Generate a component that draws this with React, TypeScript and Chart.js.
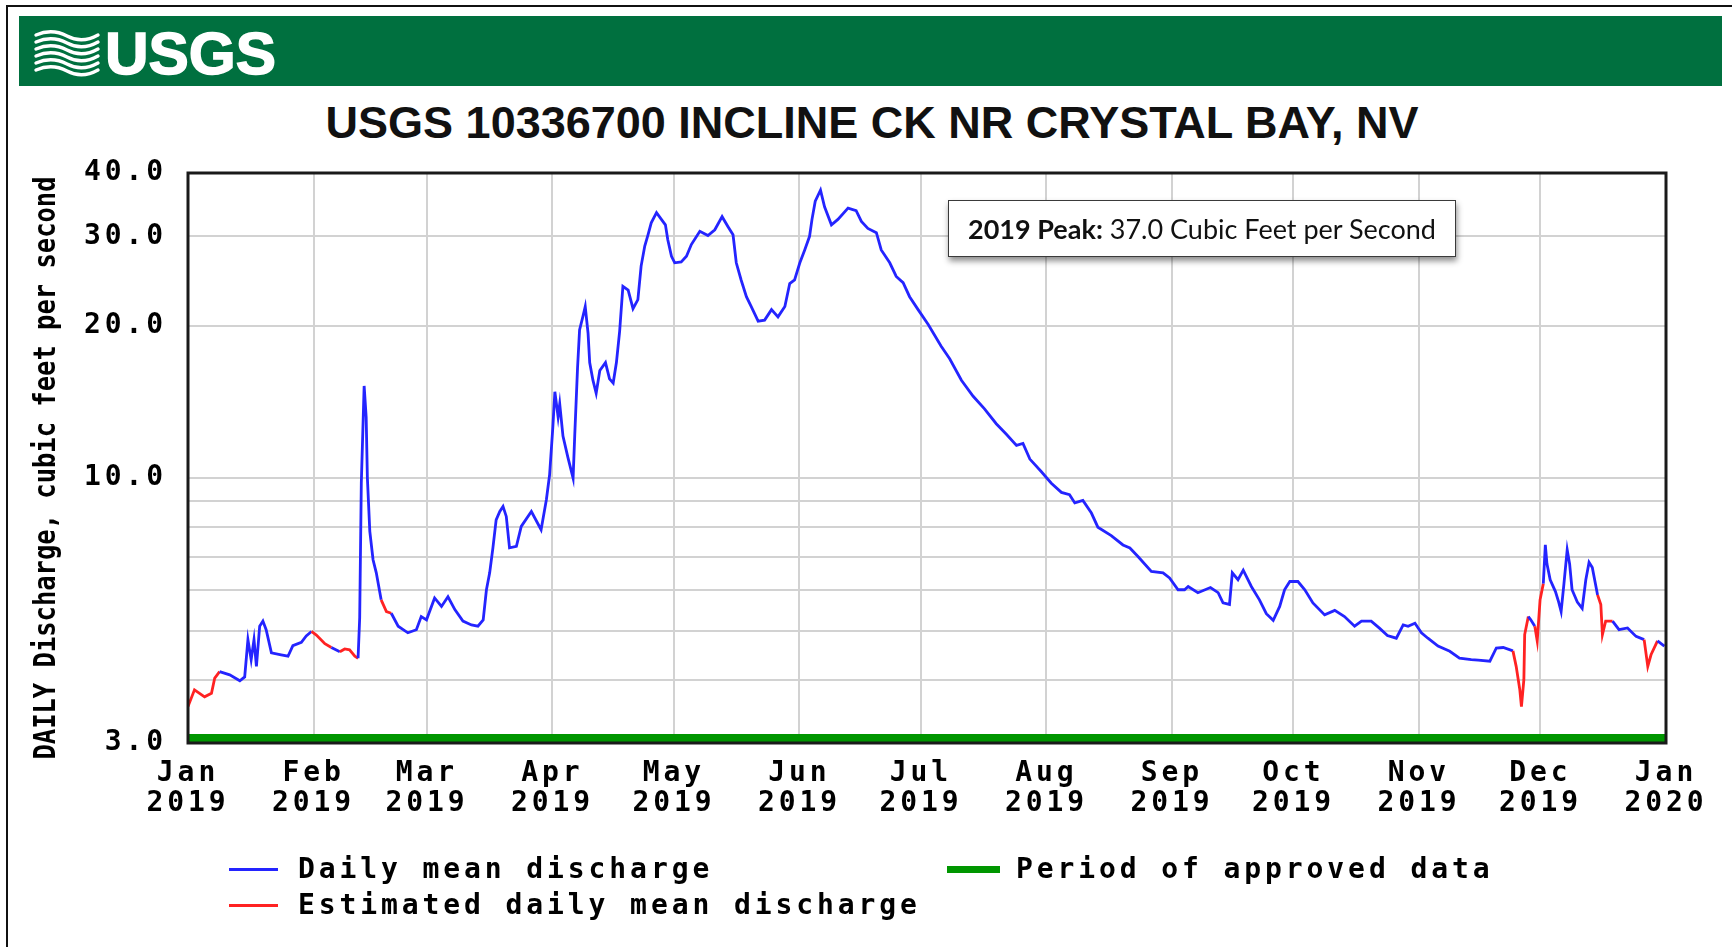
import React, { useEffect, useRef } from "react";
import { Chart, registerables } from "chart.js";

Chart.register(...registerables);

// Day offsets from 1 Jan 2019 (0 = Jan 1) of each reading on the hydrograph
const dischargeDays = [
  0, 1.6, 4.1, 5.8, 6.6, 7.8, 10.3, 12.8, 14.0, 14.8,
  15.6, 16.3, 16.9, 17.7, 18.5, 19.3, 20.6, 23.0, 24.7, 25.9,
  28.0, 29.2, 30.5, 31.7, 33.8, 35.4, 37.5, 38.7, 39.9, 41.2,
  42.0, 42.4, 42.8, 43.5, 44.0, 44.3, 44.9, 45.7, 46.5, 47.7,
  49.0, 50.2, 51.9, 54.3, 56.4, 57.6, 58.9, 60.9, 62.6, 64.2,
  65.9, 67.9, 70.0, 71.6, 72.9, 73.7, 74.5, 75.3, 76.1, 77.0,
  77.8, 78.6, 79.4, 81.1, 82.3, 84.8, 87.2, 88.5, 89.3, 90.1,
  90.6, 91.4, 91.8, 92.6, 93.8, 95.1, 95.5, 96.2, 96.7, 97.5,
  98.1, 98.8, 99.2, 100.0, 100.8, 101.7, 103.1, 104.1, 105.0, 105.8,
  106.6, 107.4, 108.7, 109.9, 111.1, 111.9, 112.8, 113.6, 114.4, 115.7,
  116.9, 117.9, 118.5, 119.4, 120.2, 121.8, 123.1, 124.3, 126.4, 128.4,
  130.1, 131.9, 133.4, 134.6, 135.4, 136.6, 137.9, 139.1, 140.8, 142.4,
  144.1, 145.7, 147.4, 148.6, 149.8, 151.1, 152.3, 153.5, 154.1, 154.9,
  156.2, 157.2, 158.9, 160.5, 163.0, 165.0, 166.3, 167.9, 170.0, 171.2,
  173.3, 174.9, 176.6, 178.2, 180.3, 182.8, 186.0, 188.1, 191.0, 193.9,
  196.7, 199.6, 202.1, 204.6, 206.2, 207.9, 210.7, 213.2, 215.7, 217.7,
  219.0, 221.0, 223.1, 224.7, 228.0, 230.9, 232.6, 234.6, 237.9, 240.8,
  242.4, 244.5, 246.1, 247.0, 249.4, 252.5, 254.4, 255.6, 257.2, 257.9,
  259.3, 260.6, 262.6, 264.6, 266.3, 268.0, 269.6, 270.8, 272.1, 274.1,
  275.8, 277.8, 280.7, 283.2, 285.6, 288.1, 289.8, 292.2, 294.3, 296.2,
  298.4, 300.1, 301.3, 303.0, 304.6, 306.2, 308.7, 311.6, 314.0, 316.9,
  318.6, 321.5, 323.1, 324.8, 327.2, 328.0, 328.9, 329.3, 329.9, 330.1,
  331.0, 331.6, 332.6, 333.2, 333.9, 334.7, 335.2, 335.6, 336.4, 337.7,
  338.5, 339.1, 339.8, 340.6, 341.2, 341.8, 343.1, 344.3, 345.2, 346.0,
  346.8, 348.1, 348.9, 349.3, 350.1, 351.8, 353.4, 355.5, 357.6, 359.6,
  360.5, 361.3, 362.9, 364.6,
];

// Daily mean discharge, cubic feet per second
const dischargeValues = [
  3.54, 3.82, 3.70, 3.76, 4.03, 4.15, 4.09, 3.98, 4.05, 4.80,
  4.38, 4.80, 4.25, 5.10, 5.22, 5.02, 4.52, 4.48, 4.45, 4.67,
  4.74, 4.88, 4.98, 4.90, 4.71, 4.63, 4.54, 4.60, 4.58, 4.45,
  4.41, 5.30, 9.77, 15.2, 13.2, 10.0, 7.85, 6.90, 6.50, 5.75,
  5.45, 5.41, 5.10, 4.95, 5.02, 5.33, 5.25, 5.80, 5.58, 5.83,
  5.50, 5.22, 5.13, 5.10, 5.25, 6.02, 6.50, 7.28, 8.27, 8.59,
  8.79, 8.40, 7.28, 7.33, 8.03, 8.59, 7.91, 9.06, 10.15, 12.6,
  14.8, 13.2, 14.0, 12.1, 11.0, 10.0, 12.1, 16.5, 19.6, 20.8,
  21.8, 19.3, 16.9, 15.6, 14.7, 16.3, 16.9, 15.7, 15.4, 16.9,
  19.5, 23.9, 23.5, 21.6, 22.5, 26.2, 28.7, 30.2, 31.9, 33.4,
  32.4, 31.6, 29.5, 27.4, 26.6, 26.7, 27.4, 28.9, 30.7, 30.1,
  30.9, 32.8, 31.3, 30.2, 26.6, 24.6, 22.8, 21.8, 20.4, 20.5,
  21.5, 20.8, 21.8, 24.2, 24.6, 26.6, 28.2, 30.0, 32.4, 35.2,
  37.0, 34.3, 31.6, 32.4, 34.1, 33.7, 32.1, 31.1, 30.5, 28.2,
  26.6, 25.0, 24.3, 22.8, 21.5, 20.1, 18.2, 17.2, 15.6, 14.5,
  13.7, 12.8, 12.2, 11.6, 11.7, 10.9, 10.3, 9.77, 9.37, 9.27,
  8.93, 9.03, 8.53, 8.00, 7.70, 7.38, 7.28, 7.00, 6.54, 6.50,
  6.35, 6.02, 6.02, 6.11, 5.94, 6.08, 5.94, 5.67, 5.63, 6.50,
  6.30, 6.58, 6.11, 5.75, 5.40, 5.24, 5.58, 6.02, 6.25, 6.25,
  6.02, 5.67, 5.37, 5.48, 5.33, 5.10, 5.22, 5.22, 5.05, 4.89,
  4.83, 5.13, 5.10, 5.17, 4.95, 4.83, 4.66, 4.55, 4.41, 4.38,
  4.37, 4.35, 4.62, 4.63, 4.56, 4.25, 3.82, 3.54, 4.00, 4.91,
  5.33, 5.25, 5.10, 4.77, 5.75, 6.19, 7.38, 6.77, 6.30, 5.97,
  5.69, 5.45, 6.19, 7.22, 6.77, 6.02, 5.69, 5.53, 6.30, 6.82,
  6.66, 5.88, 5.63, 4.91, 5.22, 5.22, 5.02, 5.06, 4.87, 4.80,
  4.25, 4.48, 4.77, 4.66,
];

// Stretches of the record flagged as estimated (start day, end day)
const estimatedRanges: [number, number][] = [
  [0, 7.8],
  [30.5, 35.4],
  [37.5, 42.0],
  [47.7, 50.2],
  [327.2, 331.0],
  [332.6, 334.7],
  [348.1, 351.8],
  [359.6, 362.9],
];

// Period of approved data (start day, end day)
const approvedPeriodDays = [0, 365];

// Month boundaries on the time axis and their labels
const monthStartDays = [0, 31, 59, 90, 120, 151, 181, 212, 243, 273, 304, 334, 365];
const monthNames = ["Jan", "Feb", "Mar", "Apr", "May", "Jun", "Jul", "Aug", "Sep", "Oct", "Nov", "Dec", "Jan"];
const monthYears = ["2019", "2019", "2019", "2019", "2019", "2019", "2019", "2019", "2019", "2019", "2019", "2019", "2020"];

// Log axis: grid lines and the subset that carry a label
const yGridValues = [3, 4, 5, 6, 7, 8, 9, 10, 20, 30, 40];
const yLabeledValues = [3, 10, 20, 30, 40];
const Y_MIN = 3;
const Y_MAX = 40;

const BLUE = "#2424ff";
const RED = "#ff2222";
const GREEN = "#009600";
const GRID = "#d2d2d2";
const MONO = '"DejaVu Sans Mono", "Liberation Mono", monospace';

const peakValue = Math.max(...dischargeValues);

function isEstimated(a: number, b: number) {
  return estimatedRanges.some(([s, e]) => a >= s - 1e-6 && b <= e + 1e-6);
}

const tickFont = { family: MONO, size: 28, weight: "bold" as const, lineHeight: 1.07 };

// Canvas-level letter spacing so the mono labels get their wide pitch
const labelSpacingPlugin = {
  id: "labelSpacing",
  beforeDraw(chart: any) {
    chart.ctx.letterSpacing = "3.9px";
  },
  afterDraw(chart: any) {
    chart.ctx.letterSpacing = "0px";
  },
};

// Dark frame around the plotting area
const plotFramePlugin = {
  id: "plotFrame",
  afterDatasetsDraw(chart: any) {
    const { ctx, chartArea: a } = chart;
    ctx.save();
    ctx.strokeStyle = "#1a1a1a";
    ctx.lineWidth = 3;
    ctx.strokeRect(a.left, a.top, a.right - a.left, a.bottom - a.top);
    ctx.restore();
  },
};

const legendText: React.CSSProperties = {
  position: "absolute",
  font: `bold 28px ${MONO}`,
  letterSpacing: "3.9px",
  lineHeight: "30px",
  whiteSpace: "nowrap",
  color: "#000",
};

export default function App() {
  const canvasRef = useRef<HTMLCanvasElement>(null);

  useEffect(() => {
    const canvas = canvasRef.current;
    if (!canvas) return;
    const n = Math.min(dischargeDays.length, dischargeValues.length);
    const series = [];
    for (let i = 0; i < n; i++) series.push({ x: dischargeDays[i], y: dischargeValues[i] });

    const chart = new Chart(canvas, {
      type: "line",
      data: {
        datasets: [
          {
            label: "Period of approved data",
            data: approvedPeriodDays.map((x) => ({ x, y: Y_MIN })),
            borderColor: GREEN,
            borderWidth: 18,
            pointRadius: 0,
            clip: 0,
            order: 2,
          },
          {
            label: "Daily mean discharge",
            data: series,
            borderColor: BLUE,
            borderWidth: 2.8,
            pointRadius: 0,
            tension: 0,
            order: 1,
            segment: {
              borderColor: (c: any) => (isEstimated(c.p0.parsed.x, c.p1.parsed.x) ? RED : BLUE),
            },
          },
        ],
      },
      options: {
        responsive: false,
        animation: false,
        devicePixelRatio: 1,
        layout: { padding: { left: 0, top: 173, right: 66, bottom: 114 } },
        plugins: {
          legend: { display: false },
          tooltip: { enabled: false },
          title: { display: false },
        },
        scales: {
          x: {
            type: "linear",
            min: 0,
            max: 365,
            afterBuildTicks: (s: any) => {
              s.ticks = monthStartDays.map((value) => ({ value }));
            },
            afterFit: (s: any) => {
              s.height = 90;
            },
            ticks: {
              autoSkip: false,
              maxRotation: 0,
              minRotation: 0,
              padding: 16,
              color: "#000",
              font: tickFont,
              callback: (_v: any, i: number) => [monthNames[i], monthYears[i]],
            },
            grid: { color: GRID, lineWidth: 2, drawTicks: false },
            border: { display: false },
          },
          y: {
            type: "logarithmic",
            min: Y_MIN,
            max: Y_MAX,
            afterBuildTicks: (s: any) => {
              s.ticks = yGridValues.map((value) => ({ value }));
            },
            afterFit: (s: any) => {
              s.width = 188;
            },
            ticks: {
              autoSkip: false,
              padding: 21,
              color: "#000",
              font: tickFont,
              callback: (v: any) => (yLabeledValues.includes(Number(v)) ? Number(v).toFixed(1) : ""),
            },
            grid: { color: GRID, lineWidth: 2, drawTicks: false },
            border: { display: false },
          },
        },
      },
      plugins: [labelSpacingPlugin, plotFramePlugin],
    } as any);

    return () => chart.destroy();
  }, []);

  return (
    <div
      style={{
        position: "fixed",
        left: 0,
        top: 0,
        width: 1732,
        height: 947,
        background: "#fff",
        overflow: "hidden",
      }}
    >
      {/* page frame */}
      <div
        style={{
          position: "absolute",
          left: 6,
          top: 5,
          right: 0,
          bottom: 0,
          borderLeft: "2px solid #111",
          borderTop: "2px solid #111",
        }}
      />

      {/* agency banner */}
      <svg style={{ position: "absolute", left: 19, top: 16 }} width={1703} height={70}>
        <rect width={1703} height={70} fill="#00703F" />
        <g fill="none" stroke="#fff" strokeWidth={3.4} strokeLinecap="round">
          <path d="M17 19 Q33 12 48 20 T79 19" />
          <path d="M17 26 Q33 19 48 27 T79 26" />
          <path d="M17 33 Q33 26 48 34 T79 33" />
          <path d="M17 40 Q33 33 48 41 T79 40" />
          <path d="M17 47 Q33 40 48 48 T79 47" />
          <path d="M17 54 Q33 47 48 55 T79 54" />
        </g>
        <text
          x={86}
          y={58}
          fill="#fff"
          stroke="#fff"
          strokeWidth={1.5}
          fontFamily='"Liberation Sans", Arial, sans-serif'
          fontWeight={700}
          fontSize={60}
          textLength={171}
          lengthAdjust="spacingAndGlyphs"
        >
          USGS
        </text>
      </svg>

      {/* chart title */}
      <div
        style={{
          position: "absolute",
          left: 0,
          width: 1744,
          top: 100,
          textAlign: "center",
          font: 'bold 45px "Liberation Sans", Arial, sans-serif',
          lineHeight: "45px",
          color: "#111",
          whiteSpace: "nowrap",
        }}
      >
        USGS 10336700 INCLINE CK NR CRYSTAL BAY, NV
      </div>

      <canvas
        ref={canvasRef}
        width={1732}
        height={947}
        style={{ position: "absolute", left: 0, top: 0, width: 1732, height: 947 }}
      />

      {/* y-axis title */}
      <svg style={{ position: "absolute", left: 0, top: 0, pointerEvents: "none" }} width={100} height={947}>
        <text
          transform="translate(44,468) rotate(-90)"
          textAnchor="middle"
          dominantBaseline="central"
          fontFamily={MONO}
          fontWeight={700}
          fontSize={30}
          textLength={583}
          lengthAdjust="spacingAndGlyphs"
          fill="#000"
        >
          DAILY Discharge, cubic feet per second
        </text>
      </svg>

      {/* peak annotation */}
      <div
        style={{
          position: "absolute",
          left: 948,
          top: 200,
          width: 508,
          height: 57,
          boxSizing: "border-box",
          border: "1.5px solid #3a3a3a",
          background: "#fff",
          boxShadow: "1px 4px 6px rgba(0,0,0,0.45)",
          display: "flex",
          alignItems: "center",
          justifyContent: "center",
          font: '27px Lato, "Open Sans", sans-serif',
          color: "#111",
          whiteSpace: "nowrap",
        }}
      >
        <b>2019 Peak:</b>&nbsp;{peakValue.toFixed(1)} Cubic Feet per Second
      </div>

      {/* legend */}
      <div style={{ position: "absolute", left: 229, top: 867.5, width: 49, height: 3, background: BLUE }} />
      <div style={{ ...legendText, left: 298, top: 854 }}>Daily mean discharge</div>
      <div style={{ position: "absolute", left: 229, top: 903.5, width: 49, height: 3, background: RED }} />
      <div style={{ ...legendText, left: 298, top: 890 }}>Estimated daily mean discharge</div>
      <div style={{ position: "absolute", left: 947, top: 865.5, width: 53, height: 7, background: GREEN }} />
      <div style={{ ...legendText, left: 1016, top: 854 }}>Period of approved data</div>
    </div>
  );
}
